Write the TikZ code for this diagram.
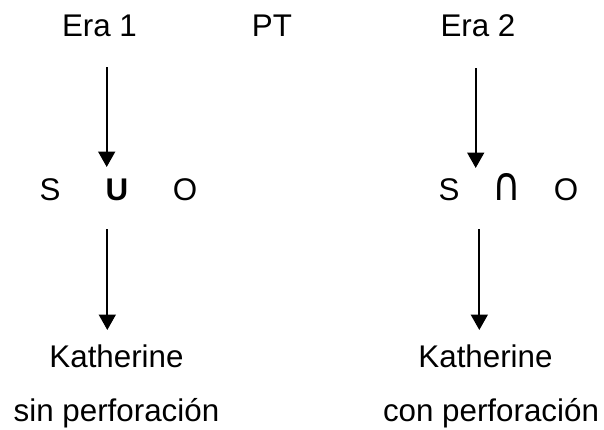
\documentclass[tikz,border=0pt]{standalone}
\usepackage{fontspec}
\usepackage{graphicx}
\setmainfont{Liberation Sans}
\newfontfamily\capfont{DejaVu Sans}
\usetikzlibrary{arrows.meta}
\tikzset{lbl/.style={inner sep=0pt,anchor=base,font=\fontsize{23.5}{25}\selectfont},
arr/.style={draw=black,line width=1.75pt,-{Triangle[length=11.6pt,width=12.6pt]}}}
\begin{document}
\begin{tikzpicture}[x=1pt,y=-1pt,scale=0.75]
\useasboundingbox (0,0) rectangle (604,429);
\node[lbl] (e1) at (99.5,36) {Era 1};
\node[lbl] (pt) at (272,36) {PT};
\node[lbl] (e2) at (478,36) {Era 2};
\node[lbl] (s1) at (50,200.5) {S};
\node[lbl] (u) at (117,200.5) {\textbf{U}};
\node[lbl] (o1) at (185,200.5) {O};
\node[lbl] (s2) at (449,200.5) {S};
\node[lbl] (n) at (507,200.5) {\scalebox{1.05}[1.25]{\capfont\fontsize{28}{30}\selectfont ∩}};
\node[lbl] (o2) at (566,200.5) {O};
\node[lbl] (k1) at (116.5,367) {Katherine};
\node[lbl] (k2) at (485.5,367) {Katherine};
\node[lbl] (p1) at (116.5,421) {sin perforación};
\node[lbl] (p2) at (491,421) {con perforación};
\coordinate (a1s) at (106.7,67); \coordinate (a1e) at (106.7,167);
\coordinate (a2s) at (107.3,229); \coordinate (a2e) at (107.3,330);
\coordinate (a3s) at (475.7,68); \coordinate (a3e) at (475.7,168);
\coordinate (a4s) at (479.3,229); \coordinate (a4e) at (479.3,330);
\draw[arr] (a1s) -- (a1e);
\draw[arr] (a2s) -- (a2e);
\draw[arr] (a3s) -- (a3e);
\draw[arr] (a4s) -- (a4e);
\end{tikzpicture}
\end{document}
